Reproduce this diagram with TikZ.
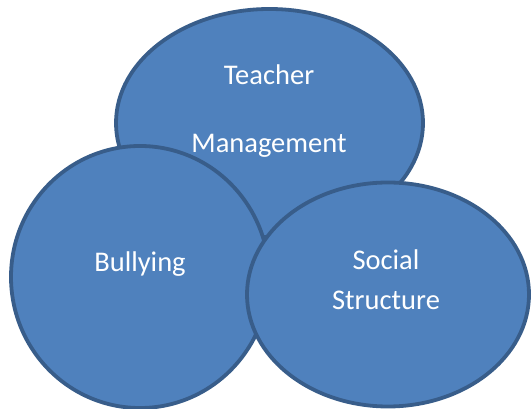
\documentclass[tikz,border=0pt]{standalone}
\usepackage{fontspec}
\setmainfont{Carlito}
\usetikzlibrary{shapes.geometric}
\definecolor{BlobFill}{HTML}{4F81BD}
\definecolor{BlobEdge}{HTML}{385D8A}
\tikzset{
  topicBlob/.style={ellipse,draw=BlobEdge,line width=3.8pt,fill=BlobFill,inner sep=0pt},
  topicText/.style={anchor=base,text=white,inner sep=0pt,font=\fontsize{28.5}{32}\selectfont}
}
\begin{document}
\begin{tikzpicture}[x=1pt,y=1pt]
  \useasboundingbox (0,0) rectangle (532,409);
  \node[topicBlob,minimum width=307pt,minimum height=228pt] (teacher) at (269.5,286) {};
  \node[topicBlob,minimum width=258pt,minimum height=262pt] (bullying) at (140,132) {};
  \node[topicBlob,minimum width=282pt,minimum height=224pt] (social) at (388,114.5) {};
  \node[topicText] (teacherA) at (269,324) {Teacher};
  \node[topicText] (teacherB) at (269,256) {Management};
  \node[topicText] (bullyingA) at (140,137) {Bullying};
  \node[topicText] (socialA) at (386,139) {Social};
  \node[topicText] (socialB) at (386,99) {Structure};
\end{tikzpicture}
\end{document}
